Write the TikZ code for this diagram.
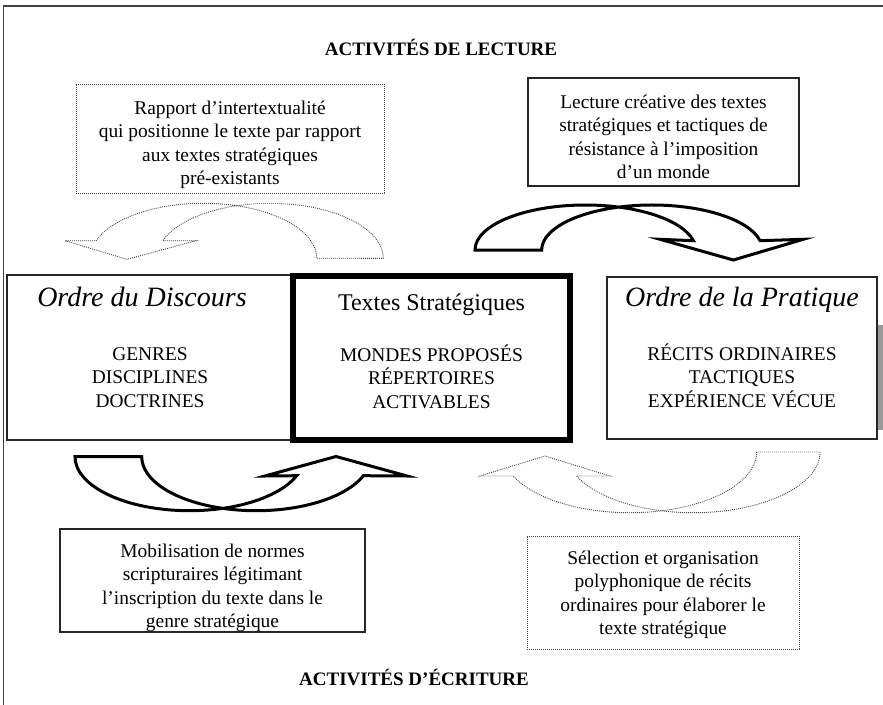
\documentclass[tikz,border=0pt]{standalone}
\usepackage{fontspec}
\setmainfont{Liberation Serif}
\newcommand\fsSide{\fontsize{19.4bp}{23.5bp}\selectfont}
\newcommand\fsCaps{\fontsize{19.4bp}{23.5bp}\selectfont}
\newcommand\fsHead{\fontsize{24bp}{28bp}\selectfont}
\newcommand\fsItal{\fontsize{28bp}{30bp}\selectfont\itshape}
\newcommand\fsBold{\fontsize{19bp}{23bp}\selectfont\bfseries}
% #1 width, #2 height, #3 distance from top to first baseline, #4 content
\newcommand\bx[4]{\begin{minipage}[c][#2][t]{#1}\centering\vspace*{\dimexpr#3-20bp\relax}\rule{0pt}{20bp}#4\end{minipage}}
\begin{document}
\begin{tikzpicture}[x=1bp,y=-1bp,
  solidbox/.style={draw=black!85, line width=1.1bp, inner sep=0pt},
  dotbox/.style={draw=black!75, line width=0.9bp, dash pattern=on 0.9bp off 1.1bp, inner sep=0pt},
  thickbox/.style={draw=black, line width=6bp, inner sep=0pt},
  solidarrow/.style={draw=black, line width=3bp, line join=miter, miter limit=20},
  dotarrow/.style={draw=black!75, line width=0.9bp, dash pattern=on 0.9bp off 1.1bp},
  frameline/.style={draw=black!75, line width=1.5bp},
  title/.style={font=\fsBold, inner sep=0pt, anchor=base}]
\useasboundingbox (0,0) rectangle (883,705);
% frame
\draw[frameline] (3.3,705) -- (3.3,6) -- (883,6);
\fill[black!40] (878,325) rectangle (883,430);
% titles
\node[title] (lecture) at (441,56) {ACTIVITÉS DE LECTURE};
\node[title] (ecriture) at (414,685) {ACTIVITÉS D'ÉCRITURE};
% upper boxes
\node[dotbox] (intertexte) at (230,138.5) {\bx{308bp}{109bp}{30.4bp}{\fsSide Rapport d'intertextualité\\qui positionne le texte par rapport\\aux textes stratégiques\\pré-existants}};
\node[solidbox] (creative) at (663.5,132) {\bx{271bp}{108bp}{30.4bp}{\fsSide Lecture créative des textes\\stratégiques et tactiques de\\résistance à l'imposition\\d'un monde}};
% middle boxes
\node[solidbox] (discours) at (150,357.5) {\bx{286bp}{165bp}{31bp}{{\fsItal Ordre du Discours\hspace*{16bp}\par}\vspace{30.5bp}{\fsCaps GENRES\\DISCIPLINES\\DOCTRINES\par}}};
\node[thickbox] (strategiques) at (431.5,358) {\bx{277bp}{164bp}{34bp}{{\fsHead Textes Stratégiques\par}\vspace{27.5bp}{\fsCaps MONDES PROPOSÉS\\RÉPERTOIRES\\ACTIVABLES\par}}};
\node[solidbox] (pratique) at (742,358) {\bx{270bp}{162bp}{29bp}{{\fsItal Ordre de la Pratique\par}\vspace{30.5bp}{\fsCaps RÉCITS ORDINAIRES\\TACTIQUES\\EXPÉRIENCE VÉCUE\par}}};
% lower boxes
\node[solidbox] (mobilisation) at (212.5,580.5) {\bx{305bp}{103bp}{28.4bp}{\fsSide Mobilisation de normes\\scripturaires légitimant\\l'inscription du texte dans le\\genre stratégique}};
\node[dotbox] (selection) at (663,592.5) {\bx{272bp}{113bp}{28bp}{\fsSide Sélection et organisation\\polyphonique de récits\\ordinaires pour élaborer le\\texte stratégique}};
% curved block arrows
\draw[dotarrow] (383.3,258.3) arc[start angle=0,end angle=161.34,x radius=113.3bp,y radius=55bp]
  -- (196,240.7) -- (127,259.3) -- (65,240.7) -- (96.1,240.7)
  arc[start angle=161.34,end angle=0,x radius=113.3bp,y radius=55bp] -- cycle;
\draw[solidarrow] (475,250) arc[start angle=180,end angle=11.93,x radius=110.4bp,y radius=45bp]
  -- (660,239.3) -- (733.3,260) -- (803.3,239.3) -- (760.1,240.7)
  arc[start angle=11.93,end angle=180,x radius=110.4bp,y radius=45bp] -- cycle;
\draw[solidarrow] (75,456.7) arc[start angle=180,end angle=339.4,x radius=114.5bp,y radius=54bp]
  -- (265,476) -- (336,456.5) -- (407,476) -- (363.4,475.7)
  arc[start angle=339.4,end angle=180,x radius=114.5bp,y radius=54bp] -- cycle;
\draw[dotarrow] (820,452) arc[start angle=360,end angle=203.3,x radius=126.85bp,y radius=60.7bp]
  -- (610,476) -- (545,456) -- (480,476) -- (513.3,476)
  arc[start angle=203.3,end angle=360,x radius=126.85bp,y radius=60.7bp] -- cycle;
\end{tikzpicture}
\end{document}
